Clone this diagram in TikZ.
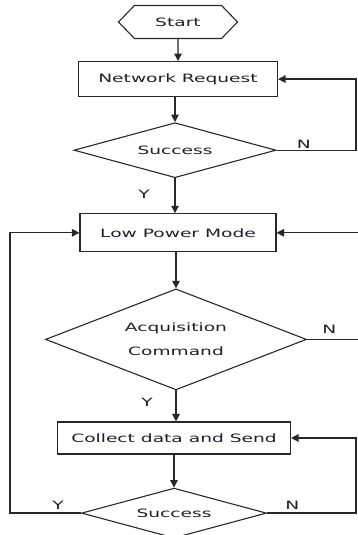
\documentclass[tikz,border=0pt]{standalone}
\usepackage{fontspec}
\setmainfont{DejaVu Sans}[FakeStretch=1.62]
\usetikzlibrary{arrows.meta, positioning, shapes.geometric, shapes.symbols}
\definecolor{lineg}{RGB}{40,40,40}
\definecolor{txtc}{RGB}{30,30,45}

\begin{document}
\begin{tikzpicture}[
    x=1pt, y=-1pt,
    >={Triangle[length=7.5pt, width=7.5pt]},
    font=\fontsize{11.5}{13}\selectfont, text=txtc,
    procbox/.style={draw=lineg, line width=1.1pt, rectangle, inner sep=0pt},
    decbox/.style={draw=lineg, line width=1.1pt, diamond, inner sep=0pt, align=center},
    termbox/.style={draw=lineg, line width=1.1pt, signal, signal to=east and west,
                    signal pointer angle=92, inner sep=0pt},
    arr/.style={->, line width=1.3pt, lineg},
    lbl/.style={inner sep=1pt},
]
\useasboundingbox (0,0) rectangle (358,535);

\node[termbox, minimum width=119pt, minimum height=33pt] (start) at (178,22) {Start};
\node[procbox, minimum width=199pt, minimum height=35pt, below=22pt of start] (netreq)
    {Network Request};
\node[decbox, aspect=3.67, minimum width=202pt, minimum height=55pt,
      below=25pt of netreq, xshift=-3pt] (succ1) {Success};
\node[procbox, minimum width=196pt, minimum height=38pt, below=35pt of succ1, xshift=3pt] (lowpow)
    {Low Power Mode};
\node[decbox, aspect=2.58, minimum width=261pt, minimum height=101pt,
      below=36pt of lowpow, xshift=-2pt] (acqcmd) {Acquisition\\[11pt]Command};
\node[procbox, minimum width=233pt, minimum height=32pt, below=31pt of acqcmd, xshift=-2pt] (collect)
    {Collect data and Send};
\node[decbox, aspect=3.7, minimum width=185pt, minimum height=50pt,
      below=33pt of collect] (succ2) {Success};

% side rails
\coordinate (railR) at (356,0);
\coordinate (railRR) at (360,0);
\coordinate (railL) at (10,0);

\draw[arr] (start) -- (start |- netreq.north);
\draw[arr] (netreq.south -| succ1) -- (succ1.north);
\draw[arr] (succ1.south) -- (succ1.south |- lowpow.north);
\draw[arr] (lowpow.south -| acqcmd) -- (acqcmd.north);
\draw[arr] (acqcmd.south) -- (acqcmd.south |- collect.north);
\draw[arr] (collect.south) -- (succ2.north);

\draw[arr] (succ1.east) -- (railR |- succ1.east) -- (railR |- netreq.east) -- (netreq.east);
\draw[arr] (acqcmd.east) -- (railRR |- acqcmd.east) -- (railRR |- lowpow.east) -- (lowpow.east);
\draw[arr] (succ2.east) -- (railR |- succ2.east) -- (railR |- collect.east) -- (collect.east);
\draw[arr] (succ2.west) -- (railL |- succ2.west) -- (railL |- lowpow.west) -- (lowpow.west);

\node[lbl, anchor=south west] at ([xshift=19pt, yshift=1pt]succ1.east) {N};
\node[lbl, anchor=east] at ([xshift=-24pt, yshift=-16pt]succ1.south) {Y};
\node[lbl, anchor=south west] at ([xshift=14pt, yshift=5pt]acqcmd.east) {N};
\node[lbl, anchor=east] at ([xshift=-22pt, yshift=-12pt]acqcmd.south) {Y};
\node[lbl, anchor=south west] at ([xshift=17pt, yshift=2pt]succ2.east) {N};
\node[lbl, anchor=south east] at ([xshift=-16pt, yshift=2pt]succ2.west) {Y};

\end{tikzpicture}
\end{document}
